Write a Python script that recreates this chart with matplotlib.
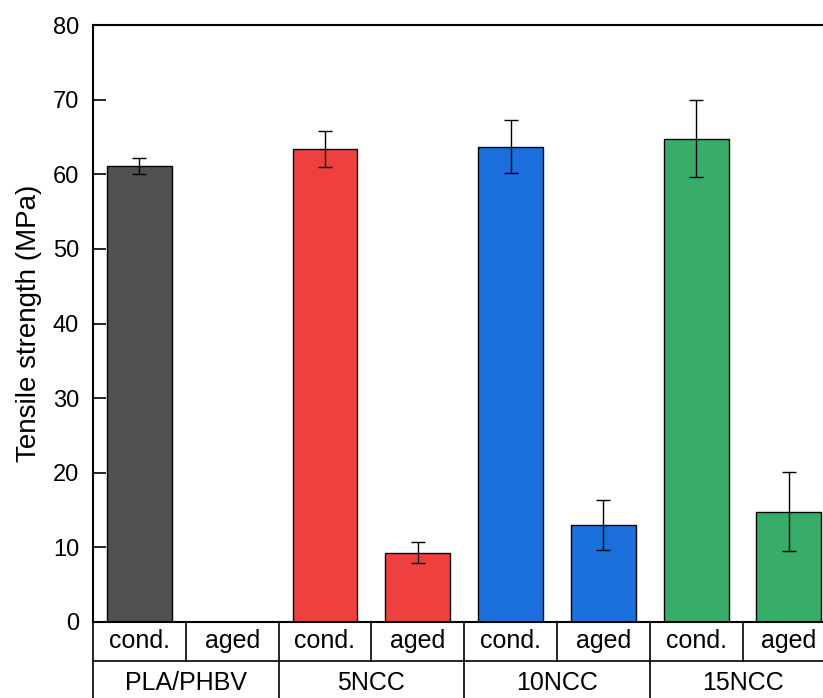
import numpy as np
import matplotlib.pyplot as plt

# =============================================================================
# Data
# =============================================================================

groups = ['PLA/PHBV', '5NCC', '10NCC', '15NCC']
conditions = ['cond.', 'aged']
# strength (MPa) for each slot, None = no bar
strength = [61.1, None, 63.4, 9.3, 63.7, 13.0, 64.8, 14.8]
strength_err = [1.1, None, 2.45, 1.35, 3.55, 3.3, 5.1, 5.35]
colors = ['#505050', '#505050', '#EF4040', '#EF4040',
          '#1A6FDB', '#1A6FDB', '#38AD69', '#38AD69']

plt.rcParams['font.family'] = ['Liberation Sans', 'DejaVu Sans']

# =============================================================================
# Plot
# =============================================================================

fig = plt.figure(figsize=(8.23, 6.98), dpi=100)
ax = fig.add_axes([0.113, 0.109, 0.902, 0.855])

x = np.arange(len(strength))
for i in x:
    if strength[i] is None:
        continue
    ax.bar(i, strength[i], width=0.7, color=colors[i], edgecolor='black',
           linewidth=1.0, zorder=2)
    ax.errorbar(i, strength[i], yerr=strength_err[i], fmt='none',
                ecolor='black', elinewidth=1.0, capsize=5, capthick=1.0,
                zorder=3)

ax.set_xlim(-0.5, len(strength) - 0.5)
ax.set_ylim(0, 80)
ax.set_yticks(np.arange(0, 81, 10))
ax.set_xticks([])
ax.tick_params(axis='y', direction='in', length=9, width=1.2, labelsize=17,
               pad=10)
ax.set_ylabel('Tensile strength (MPa)', fontsize=20, labelpad=8)
for s in ['left', 'top', 'bottom']:
    ax.spines[s].set_linewidth(1.5)
ax.spines['right'].set_visible(False)

# =============================================================================
# Category table under the axis
# =============================================================================

row_h = 0.0653
trans = ax.get_xaxis_transform()
kw = dict(color='black', linewidth=1.2, transform=trans, clip_on=False)

ax.plot([-0.5, len(strength)], [-row_h, -row_h], **kw)
ax.plot([-0.5, -0.5], [0, -0.2], **kw)
for i in x:
    ax.text(i, -row_h / 2, conditions[i % 2], transform=trans, ha='center',
            va='center', fontsize=18)
    if i < len(strength) - 1:
        if i % 2 == 1:
            ax.plot([i + 0.5, i + 0.5], [0, -0.2], **kw)
        else:
            ax.plot([i + 0.5, i + 0.5], [0, -row_h], **kw)
for g, name in enumerate(groups):
    ax.text(2 * g + 0.5, -0.103, name, transform=trans, ha='center',
            va='center', fontsize=18)

fig.savefig('out.png', dpi=100)
